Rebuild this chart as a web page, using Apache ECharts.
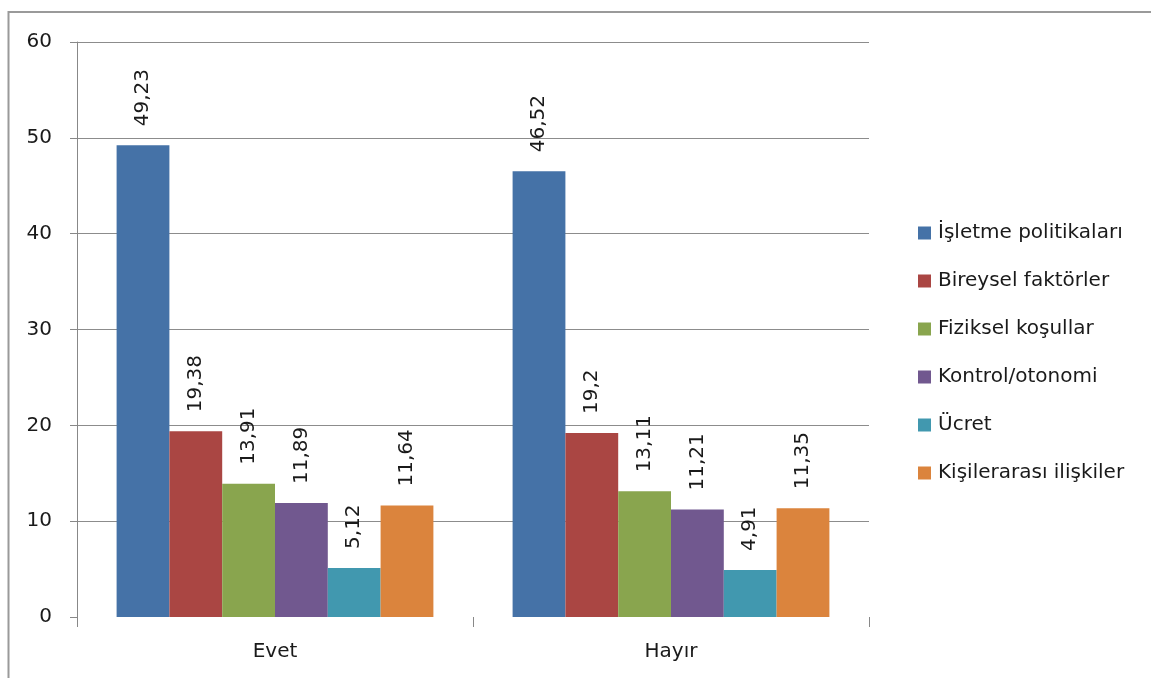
<!DOCTYPE html>
<html>
<head>
<meta charset="utf-8">
<script src="https://cdn.jsdelivr.net/npm/echarts@6/dist/echarts.min.js"></script>
<style>
  html, body { margin: 0; padding: 0; background: #fff; }
  #chart { width: 1151px; height: 678px; }
</style>
</head>
<body>
<div id="chart"></div>
<script>
// Answer groups on the x axis
var categories = ['Evet', 'Hayır'];

// Factor series, one value per answer group
var seriesNames = [
  'İşletme politikaları',
  'Bireysel faktörler',
  'Fiziksel koşullar',
  'Kontrol/otonomi',
  'Ücret',
  'Kişilerarası ilişkiler'
];
var isletme = [49.23, 46.52];
var bireysel = [19.38, 19.2];
var fiziksel = [13.91, 13.11];
var kontrol = [11.89, 11.21];
var ucret = [5.12, 4.91];
var kisilerarasi = [11.64, 11.35];

var seriesColors = ['#4572A7', '#AA4643', '#89A54E', '#71588F', '#4198AF', '#DB843D'];

var yMin = 0, yMax = 60, yStep = 10;

var FONT = '"DejaVu Sans", Verdana, sans-serif';
var TEXT = '#1a1a1a';
var values = [isletme, bireysel, fiziksel, kontrol, ucret, kisilerarasi];

var chart = echarts.init(document.getElementById('chart'), null, { renderer: 'canvas' });

var series = seriesNames.map(function (name, i) {
  return {
    name: name,
    type: 'bar',
    data: values[i],
    barGap: '0%',
    barCategoryGap: '20%',
    itemStyle: { color: seriesColors[i] },
    label: {
      show: true,
      position: 'top',
      rotate: 90,
      align: 'left',
      verticalAlign: 'middle',
      distance: 19,
      color: TEXT,
      fontFamily: FONT,
      fontSize: 20,
      formatter: function (p) { return String(p.value).replace('.', ','); }
    }
  };
});

chart.setOption({
  animation: false,
  backgroundColor: '#fff',
  // outer frame: left and top edges of the chart area
  graphic: [{
    type: 'polyline',
    shape: { points: [[8.5, 678], [8.5, 12], [1151, 12]] },
    style: { fill: null, stroke: '#9a9a9a', lineWidth: 2 },
    silent: true
  }],
  grid: { left: 77, right: 282, top: 42, bottom: 61, containLabel: false },
  legend: {
    orient: 'vertical',
    left: 913,
    top: 218,
    itemWidth: 13,
    itemHeight: 13,
    itemGap: 28,
    icon: 'rect',
    textStyle: { fontFamily: FONT, fontSize: 20, lineHeight: 20, color: TEXT, padding: [0, 0, 0, 2] },
    data: seriesNames
  },
  xAxis: {
    type: 'category',
    data: categories,
    axisLine: { show: false },
    axisTick: { show: true, length: 10, lineStyle: { color: '#888', width: 1 } },
    axisLabel: { margin: 25, fontFamily: FONT, fontSize: 20, color: TEXT },
    splitLine: { show: false }
  },
  yAxis: {
    type: 'value',
    min: yMin,
    max: yMax,
    interval: yStep,
    axisLine: { show: true, lineStyle: { color: '#888', width: 1 } },
    axisTick: { show: true, length: 7, lineStyle: { color: '#888' } },
    axisLabel: { margin: 25, fontFamily: FONT, fontSize: 20, color: TEXT },
    splitLine: { show: true, showMinLine: false, lineStyle: { color: '#8c8c8c', width: 1 } }
  },
  series: series
});
</script>
</body>
</html>
